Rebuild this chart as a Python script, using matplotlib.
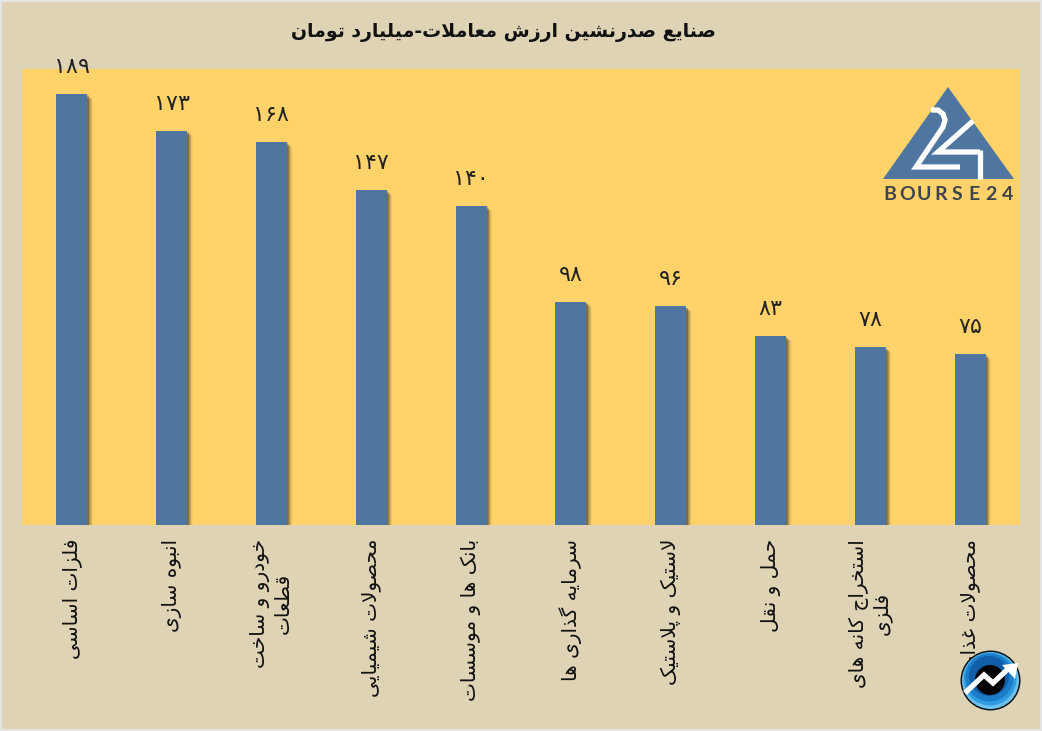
import matplotlib
matplotlib.use("Agg")
import matplotlib.pyplot as plt
import matplotlib.patheffects as pe
from matplotlib.patches import Polygon, Ellipse, Rectangle
from matplotlib.lines import Line2D

# data
title = "صنایع صدرنشین ارزش معاملات-میلیارد تومان"
categories = ["فلزات اساسی", "انبوه سازی", "خودرو و ساخت\nقطعات", "محصولات شیمیایی",
              "بانک ها و موسسات", "سرمایه گذاری ها", "لاستیک و پلاستیک", "حمل و نقل",
              "استخراج کانه های\nفلزی", "محصولات غذایی"]
values = [189, 173, 168, 147, 140, 98, 96, 83, 78, 75]
logo_name = "BOURSE24"

W, H = 1042, 731

# matplotlib does not join arabic letters, so pick the presentation forms by hand
# letter: isolated, final, initial, medial
FORMS = {
    "ا": "ﺍﺎ", "آ": "ﺁﺂ", "د": "ﺩﺪ", "ذ": "ﺫﺬ", "ر": "ﺭﺮ", "ز": "ﺯﺰ", "و": "ﻭﻮ",
    "ب": "ﺏﺐﺑﺒ", "پ": "ﭖﭗﭘﭙ", "ت": "ﺕﺖﺗﺘ", "ث": "ﺙﺚﺛﺜ", "ج": "ﺝﺞﺟﺠ", "چ": "ﭺﭻﭼﭽ",
    "ح": "ﺡﺢﺣﺤ", "خ": "ﺥﺦﺧﺨ", "س": "ﺱﺲﺳﺴ", "ش": "ﺵﺶﺷﺸ", "ص": "ﺹﺺﺻﺼ", "ض": "ﺽﺾﺿﻀ",
    "ط": "ﻁﻂﻃﻄ", "ظ": "ﻅﻆﻇﻈ", "ع": "ﻉﻊﻋﻌ", "غ": "ﻍﻎﻏﻐ", "ف": "ﻑﻒﻓﻔ", "ق": "ﻕﻖﻗﻘ",
    "ک": "ﮎﮏﮐﮑ", "گ": "ﮒﮓﮔﮕ", "ل": "ﻝﻞﻟﻠ", "م": "ﻡﻢﻣﻤ", "ن": "ﻥﻦﻧﻨ", "ه": "ﻩﻪﻫﻬ",
    "ی": "ﯼﯽﯾﯿ",
}


def joins_next(c):
    return c in FORMS and len(FORMS[c]) == 4


def shape_line(s):
    out = []
    i = 0
    while i < len(s):
        c = s[i]
        if c not in FORMS:
            out.append(c)
            i += 1
            continue
        prev = s[i - 1] if i > 0 else " "
        from_prev = joins_next(prev)
        nxt = s[i + 1] if i + 1 < len(s) else " "
        # lam-alef
        if c == "ل" and nxt == "ا":
            out.append("ﻼ" if from_prev else "ﻻ")
            i += 2
            continue
        to_next = joins_next(c) and nxt in FORMS
        f = FORMS[c]
        if from_prev and to_next:
            out.append(f[3])
        elif to_next:
            out.append(f[2])
        elif from_prev:
            out.append(f[1])
        else:
            out.append(f[0])
        i += 1
    return "".join(out)[::-1]


def shape(s):
    return "\n".join(shape_line(p) for p in s.split("\n"))


def fa_num(n):
    return str(n).translate(str.maketrans("0123456789", "۰۱۲۳۴۵۶۷۸۹"))


def px(x, y):
    # picture pixels to figure fraction
    return x / W, 1 - y / H


def fig_line(pts, **kw):
    f = [px(*p) for p in pts]
    fig.add_artist(Line2D([p[0] for p in f], [p[1] for p in f], transform=fig.transFigure, **kw))


plt.rcParams['font.family'] = ['DejaVu Sans']

fig = plt.figure(figsize=(W / 100, H / 100), dpi=100, facecolor="#DFD3B6")
fig.add_artist(Rectangle((0, 0), 1, 1, transform=fig.transFigure, fill=False,
                         edgecolor="#E4E4E2", linewidth=3, zorder=1))

ax = fig.add_axes([22 / W, 1 - 525 / H, 998 / W, 456 / H], facecolor="#FFD369")
xs = range(len(values))
# soft shadow from stacked offsets
shadow = [pe.SimplePatchShadow(offset=(o, -o), shadow_rgbFace="#2a2a2a", alpha=a)
          for o, a in ((4.0, 0.04), (3.5, 0.06), (3.0, 0.09), (2.5, 0.12), (2.0, 0.15), (1.5, 0.18), (1.0, 0.2))]
bars = ax.bar(xs, values, width=0.31, color="#4F76A1", path_effects=shadow + [pe.Normal()])
ax.set_xlim(-0.5, 9.5)
ax.set_ylim(0, 200)
ax.set_yticks([])
ax.set_xticks(list(xs))
ax.set_xticklabels([shape(c) for c in categories], rotation=90, fontsize=14.5,
                   ha="center", va="top", multialignment="center", color="#111111")
ax.tick_params(axis="x", length=0, pad=10)
for s in ax.spines.values():
    s.set_visible(False)

ax.bar_label(bars, labels=[fa_num(v) for v in values], padding=12, fontsize=16, color="#222222")

fig.text(*px(503, 32), shape(title), fontsize=13.6, fontweight="bold", ha="center", va="center", color="#111111")

# bourse24 logo
fig.add_artist(Polygon([px(948, 87), px(883, 179), px(1014, 179)], transform=fig.transFigure,
                       facecolor="#4F76A1", edgecolor="none", zorder=3))
two = [(931, 110), (938, 110), (943, 114), (945, 120), (943, 127), (916, 167), (960, 167)]
four = [(973, 121), (938, 152), (980, 152)]
four_b = [(980, 150), (980, 179)]
for pts in (two, four, four_b):
    fig_line(pts, color="white", linewidth=3.8, solid_joinstyle="miter", solid_capstyle="butt", zorder=4)
for i, ch in enumerate(logo_name):
    fig.text(*px(890 + i * 16.8, 195), ch, fontsize=14, ha="center", va="center", color="#3D4450", zorder=4,
             fontfamily="Lato", fontweight="bold")


# round badge, bottom right
def disc(cx, cy, r, color, z):
    x, y = px(cx, cy)
    fig.add_artist(Ellipse((x, y), 2 * r / W, 2 * r / H, transform=fig.transFigure,
                           facecolor=color, edgecolor="none", zorder=z))


disc(990.5, 680.5, 30, "#0C1216", 5)
disc(990.5, 680.5, 28.5, "#6CC0EE", 6)
disc(990, 679, 26.5, "#2F9BE0", 6.1)
disc(989.5, 677.5, 24, "#1B7CC8", 6.2)
disc(989, 676, 20, "#115FA8", 6.3)
disc(990, 680, 15, "#050505", 6.4)
fig_line([(965, 693), (984, 675), (993, 683), (1009, 668)], color="white", linewidth=3.8,
         solid_joinstyle="miter", solid_capstyle="butt", zorder=7)
fig.add_artist(Polygon([px(1018, 663), px(1002, 665), px(1015, 679)], transform=fig.transFigure,
                       facecolor="white", edgecolor="none", zorder=7))

fig.savefig("out.png", dpi=100, facecolor=fig.get_facecolor())
